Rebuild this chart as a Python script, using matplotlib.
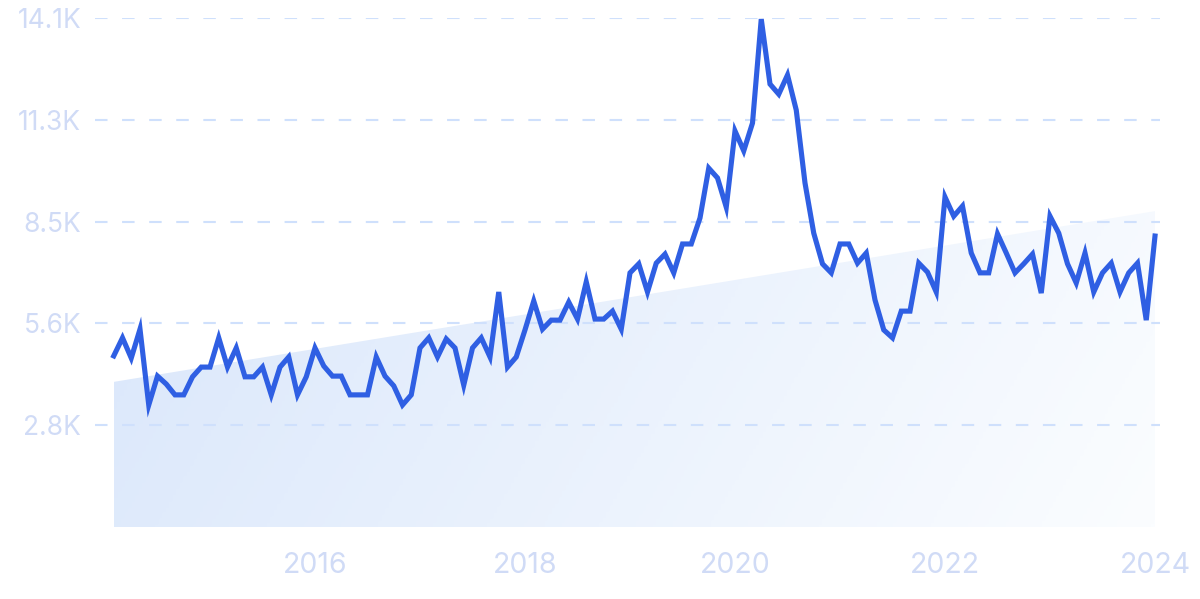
import matplotlib
matplotlib.use("Agg")
import matplotlib.pyplot as plt
import numpy as np
from matplotlib.colors import LinearSegmentedColormap

# monthly values in thousands, Feb 2014 .. Jan 2024
values = [
    4.74, 5.24, 4.68, 5.48, 3.38, 4.18, 3.96, 3.66, 3.66, 4.16, 4.43, 4.43,
    5.24, 4.43, 4.96, 4.16, 4.16, 4.43, 3.66, 4.43, 4.71, 3.66, 4.16, 4.96,
    4.46, 4.18, 4.18, 3.66, 3.66, 3.66, 4.71, 4.18, 3.91, 3.38, 3.66, 4.96,
    5.24, 4.71, 5.21, 4.96, 3.93, 4.96, 5.24, 4.71, 6.51, 4.43, 4.71, 5.46,
    6.26, 5.48, 5.73, 5.73, 6.23, 5.76, 6.79, 5.76, 5.76, 5.98, 5.48, 7.04,
    7.29, 6.51, 7.31, 7.56, 7.04, 7.84, 7.84, 8.56, 9.94, 9.67, 8.86, 10.97,
    10.42, 11.19, 14.07, 12.27, 11.99, 12.52, 11.55, 9.53, 8.14, 7.29, 7.04, 7.84,
    7.84, 7.31, 7.59, 6.29, 5.46, 5.24, 5.98, 5.98, 7.31, 7.06, 6.51, 9.14,
    8.61, 8.89, 7.59, 7.04, 7.04, 8.12, 7.59, 7.04, 7.29, 7.56, 6.48, 8.61,
    8.14, 7.29, 6.76, 7.59, 6.51, 7.04, 7.31, 6.51, 7.04, 7.31, 5.73, 8.06,
]
start_year = 2014 + 1 / 12
years = start_year + np.arange(len(values)) / 12

trend_start = 4.02
trend_end = 8.75

y_ticks = [2.82, 5.64, 8.46, 11.28, 14.1]
y_labels = ["2.8K", "5.6K", "8.5K", "11.3K", "14.1K"]
x_ticks = [2016, 2018, 2020, 2022, 2024]

plt.rcParams['font.family'] = ['Inter', 'DejaVu Sans']

fig = plt.figure(figsize=(12, 5.99), dpi=100)
ax = fig.add_axes([95 / 1200, 72 / 599, 1065 / 1200, 509 / 599])

x0 = 2016 - 220 / 105
x1 = 2016 + 845 / 105
ax.set_xlim(x0, x1)
ax.set_ylim(0, 14.1)

# trend area with gradient
trend = trend_start + (trend_end - trend_start) * (years - years[0]) / (years[-1] - years[0])
poly = ax.fill_between(years, 0, trend, color='none', lw=0)
cmap = LinearSegmentedColormap.from_list('g', ['#dae7fb', '#fbfdff'])
gx, gy = np.meshgrid(np.linspace(0, 1, 300), np.linspace(0, 1, 150))
grad = gx * 0.85 + gy * 0.15
img = ax.imshow(grad, extent=[years[0], years[-1], 0, trend_end], origin='upper',
                cmap=cmap, aspect='auto', zorder=1)
img.set_clip_path(poly.get_paths()[0], transform=ax.transData)

for t in y_ticks:
    ax.axhline(t, color='#cfe0fc', lw=1.5, dashes=(6, 7), zorder=2)

ax.plot(years, values, color='#2f5fe3', lw=3.7, solid_joinstyle='miter',
        zorder=3, clip_on=False)

ax.set_yticks(y_ticks)
ax.set_yticklabels(y_labels)
ax.set_xticks(x_ticks)
ax.set_xticklabels([str(x) for x in x_ticks])
ax.tick_params(axis='y', length=0, pad=10, labelsize=19, labelcolor='#d0dbf6')
ax.tick_params(axis='x', length=0, pad=18, labelsize=20.5, labelcolor='#d0dbf6')
for s in ax.spines.values():
    s.set_visible(False)

fig.savefig('out.png', dpi=100, facecolor='white')
